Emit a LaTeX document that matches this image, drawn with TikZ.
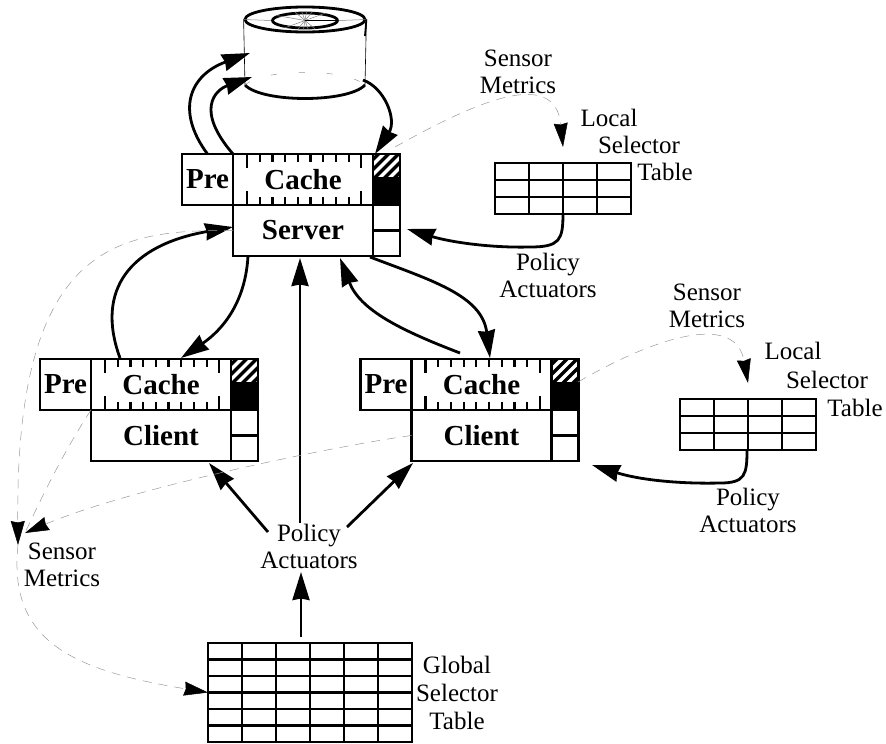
\documentclass[tikz,border=0pt]{standalone}
\usepackage{fontspec}
\setmainfont{Liberation Serif}
\usetikzlibrary{arrows.meta, positioning, shapes.geometric}
\tikzset{
  labeltext/.style={font=\fontsize{25}{27}\selectfont, align=center, inner sep=0pt},
  blockbox/.style={draw, line width=2.6pt, inner sep=0pt, outer sep=0pt, minimum height=51pt,
    font=\fontsize{29}{30}\selectfont\bfseries},
  flagbox/.style={draw, line width=2.6pt, inner sep=0pt, outer sep=0pt, minimum width=27pt},
  tablebox/.style={draw, line width=2.6pt, inner sep=0pt, outer sep=0pt, anchor=north west},
  tick/.style={line width=2.2pt},
  flow/.style={line width=2.8pt, -{Stealth[length=28pt, width=17pt, inset=1.5pt]}},
  sensor/.style={gray!80, line width=0.5pt, dash pattern=on 9pt off 7pt},
  sensorhead/.style={sensor, -{Stealth[length=24pt, width=14pt, inset=1.5pt, color=black, fill=black]}},
}
\newcommand{\cachestack}[4]{
  \node[blockbox, minimum width=140pt] (#1cache) at (#2,#3) {Cache};
  \node[blockbox, minimum width=51pt, left=0pt of #1cache] (#1pre) {Pre};
  \node[blockbox, minimum width=140pt, below=0pt of #1cache] (#1host) {#4};
  \node[flagbox, minimum height=24pt, anchor=north west,
    path picture={
      \foreach \d in {-20,-10,0,10,20} {
        \draw[line width=3.5pt] ([xshift=\d pt]path picture bounding box.south) ++(-14pt,-2pt) -- ++(28pt,28pt);
      }}] (#1hatch) at (#1cache.north east) {};
  \node[flagbox, fill=black, minimum height=27pt, below=0pt of #1hatch] (#1full) {};
  \node[flagbox, minimum height=25.5pt, below=0pt of #1full] (#1slota) {};
  \node[flagbox, minimum height=25.5pt, below=0pt of #1slota] (#1slotb) {};
  \foreach \i in {0,...,9} {
    \draw[tick] ([xshift=14pt+12.7pt*\i]#1cache.north west) -- ++(0,8);
    \draw[tick] ([xshift=14pt+12.7pt*\i]#1cache.south west) -- ++(0,-8);
  }
  \foreach \i in {0,9} {
    \draw[tick] ([xshift=14pt+12.7pt*\i]#1cache.north west) -- ++(0,14);
    \draw[tick] ([xshift=14pt+12.7pt*\i]#1cache.south west) -- ++(0,-14);
  }
}
\newcommand{\selectortable}[6]{
  \node[tablebox, minimum width=#4*34pt, minimum height=#5*#6pt] (#1) at (#2,#3) {};
  \pgfmathtruncatemacro{\lastcol}{#4-1}
  \pgfmathtruncatemacro{\lastrow}{#5-1}
  \foreach \c in {1,...,\lastcol} {
    \draw[line width=2.6pt] ([xshift=\c*34pt]#1.north west) -- ([xshift=\c*34pt]#1.south west);
  }
  \foreach \r in {1,...,\lastrow} {
    \draw[line width=2.6pt] ([yshift=-\r*#6pt]#1.north west) -- ([yshift=-\r*#6pt]#1.north east);
  }
}
\begin{document}
\begin{tikzpicture}[x=1pt, y=-1pt]
  \useasboundingbox (0,0) rectangle (886,744);

  % disk
  \node[draw, ellipse, line width=2.8pt, minimum width=120pt, minimum height=25pt, inner sep=0pt] (disktop) at (305,19.5) {};
  \node[draw, ellipse, line width=2.8pt, minimum width=65pt, minimum height=15pt, inner sep=0pt] (diskhub) at (305,20.5) {};
  \foreach \a in {20,50,...,340} {
    \draw[line width=0.5pt, gray] (diskhub.center) -- (diskhub.\a);
  }
  \draw[line width=1.4pt] (diskhub.center) -- (diskhub.east);
  \draw[line width=0.5pt, gray] (disktop.west) -- (diskhub.west);
  \draw[line width=0.5pt, gray] (diskhub.east) -- (disktop.east);
  \coordinate (diskleft) at (245,85);
  \coordinate (diskright) at (365,85);
  \draw[line width=0.6pt] (disktop.west) -- (diskleft);
  \draw[line width=0.6pt] (disktop.east) -- (diskright);
  \draw[line width=1.8pt] (disktop.east) -- (365,36);
  \draw[line width=2.8pt] (diskleft) .. controls (262,103) and (348,103) .. (diskright);
  \draw[sensor, dash pattern=on 6pt off 22pt] (diskleft) .. controls (265,68) and (345,68) .. (diskright);

  % cache stacks
  \cachestack{server}{303}{179.5}{Server}
  \cachestack{left}{161}{384.5}{Client}
  \cachestack{right}{481.5}{384.5}{Client}

  % tables
  \selectortable{localone}{495}{163}{4}{3}{17}
  \selectortable{localtwo}{680}{399}{4}{3}{17}
  \selectortable{globaltab}{208}{643}{6}{6}{16.5}

  % labels
  \node[labeltext] (sensorone) at (518,71.5) {Sensor\\Metrics};
  \node[labeltext] (localoneA) at (609,118) {Local};
  \node[labeltext] (localoneB) at (639,145) {Selector};
  \node[labeltext] (localoneC) at (665,172) {Table};
  \node[labeltext] (policyone) at (548,275) {Policy\\Actuators};
  \node[labeltext] (sensortwo) at (707,306) {Sensor\\Metrics};
  \node[labeltext] (localtwoA) at (793,351) {Local};
  \node[labeltext] (localtwoB) at (827,380) {Selector};
  \node[labeltext] (localtwoC) at (855,408) {Table};
  \node[labeltext] (policytwo) at (748,510) {Policy\\Actuators};
  \node[labeltext] (policymid) at (309,546) {Policy\\Actuators};
  \node[labeltext] (sensorleft) at (62,565) {Sensor\\Metrics};
  \node[labeltext, font=\fontsize{25}{28}\selectfont] (globallabel) at (457,693) {Global\\Selector\\Table};

  % free ends
  \coordinate (diskinA) at (250,53);
  \coordinate (diskinB) at (252,77);
  \coordinate (diskout) at (363,80);
  \coordinate (sensorend) at (18,545);
  \coordinate (sensormeet) at (25,533);
  \coordinate (policytail) at (301,637);
  \coordinate (policytip) at (301,572);

  % data paths
  \draw[flow] (serverpre.north) .. controls (175,110) and (190,75) .. (diskinA);
  \draw[flow] (servercache.north west) .. controls (195,110) and (215,90) .. (diskinB);
  \draw[flow] (diskout) .. controls (385,88) and (397,120) .. (375,154);
  \draw[flow] (248,256) .. controls (245,310) and (215,335) .. (181,358);
  \draw[flow] (120,358) .. controls (95,290) and (130,245) .. (233,227);
  \draw[flow] (370,257) .. controls (430,280) and (482,295) .. (490,358);
  \draw[flow] (460,353) .. controls (400,330) and (360,310) .. (340,258);

  % policy paths
  \draw[flow] (300,523) -- (300,258);
  \draw[flow] (268,532) -- (209,463);
  \draw[flow] (347,527) -- (413,463);
  \draw[flow] (policytail) -- (policytip);
  \draw[flow] (563,213) .. controls (563,240) and (560,247) .. (530,247) .. controls (490,248) and (450,242) .. (407,229);
  \draw[flow] (localtwo.south -| 747,0) .. controls (747,475) and (745,483) .. (720,483) .. controls (680,484) and (640,480) .. (592,465);

  % sensor paths
  \draw[sensorhead] (395,147) .. controls (470,105) and (555,65) .. (563,147);
  \draw[sensorhead] (578,382) .. controls (650,340) and (735,310) .. (748,383);
  \draw[sensor] (lefthost.north west) .. controls (65,450) and (45,490) .. (sensormeet);
  \draw[sensorhead] (righthost.west) .. controls (340,445) and (130,488) .. (sensormeet);
  \draw[sensorhead] (serverhost.west) .. controls (120,230) and (15,240) .. (sensorend);
  \draw[sensorhead] (sensorend) .. controls (8,640) and (70,670) .. (globaltab.west);
\end{tikzpicture}
\end{document}
